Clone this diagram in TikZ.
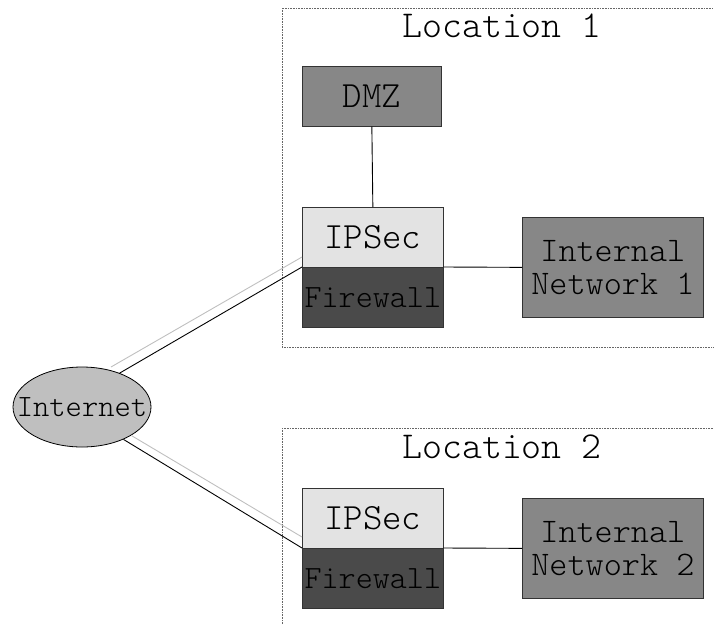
\documentclass[tikz,border=0pt]{standalone}
\usepackage{fontspec}
\setmonofont{Latin Modern Mono Light}
\usetikzlibrary{shapes.geometric}
\begin{document}
\begin{tikzpicture}[x=1pt,y=-1pt,
  loc/.style={draw=gray!80!black,dash pattern=on 0.8pt off 0.8pt,line width=0.8pt},
  boxbase/.style={draw=black!80,line width=0.7pt,inner sep=0pt,anchor=north west},
  dmzbox/.style={boxbase,fill=black!47,minimum width=139pt,minimum height=60pt,font=\ttfamily\fontsize{37}{39}\selectfont},
  ipbox/.style={boxbase,fill=black!11,minimum width=141pt,minimum height=60pt,font=\ttfamily\fontsize{37}{39}\selectfont},
  fwbox/.style={boxbase,fill=black!71,minimum width=141pt,minimum height=60pt,font=\ttfamily\fontsize{32.5}{34}\selectfont},
  netbox/.style={boxbase,fill=black!47,minimum width=181pt,minimum height=100pt,align=center,font=\ttfamily\fontsize{34.5}{33}\selectfont},
  link/.style={draw=black,line width=0.9pt},
  glink/.style={draw=black!25,line width=0.9pt},
  loctext/.style={font=\ttfamily\fontsize{38}{40}\selectfont}]
\useasboundingbox (0,0) rectangle (714,624);
\clip (0,0) rectangle (714,624);
% location frames
\draw[loc] (282,8) rectangle (740,347);
\draw[loc] (282,428) rectangle (740,660);
\node[loctext] (l1) at (502,26) {Location 1};
\node[loctext] (l2) at (502,447) {Location 2};
% location 1
\node[dmzbox] (dmz) at (302,66) {DMZ};
\node[ipbox] (ip1) at (302,207) {IPSec};
\node[fwbox] (fw1) at (302,267) {Firewall};
\node[netbox] (net1) at (522,217) {Internal\\Network 1};
% location 2
\node[ipbox] (ip2) at (302,488) {IPSec};
\node[fwbox] (fw2) at (302,548) {Firewall};
\node[netbox] (net2) at (522,498) {Internal\\Network 2};
% internet
\node[ellipse,draw=black,line width=0.8pt,fill=black!25,minimum width=138pt,minimum height=80pt,inner sep=0pt] (inet) at (82,407) {};
\node[font=\ttfamily\fontsize{31}{33}\selectfont,inner sep=0pt] (inettext) at (inet.center) {Internet};
% connectors
\draw[link] (dmz.south) -- (ip1.north);
\draw[link] (fw1.north east) -- (net1.west);
\draw[link] (fw2.north east) -- (net2.west);
\coordinate (g1) at (302,257);
\coordinate (g2) at (302,537);
\coordinate (gs1) at (111,367);
\draw[link] (inet.42) -- (fw1.north west);
\draw[glink] (gs1) -- (g1);
\draw[link] (inet.-38) -- (fw2.north west);
\draw[glink] (inet.-30) -- (g2);
\end{tikzpicture}
\end{document}
